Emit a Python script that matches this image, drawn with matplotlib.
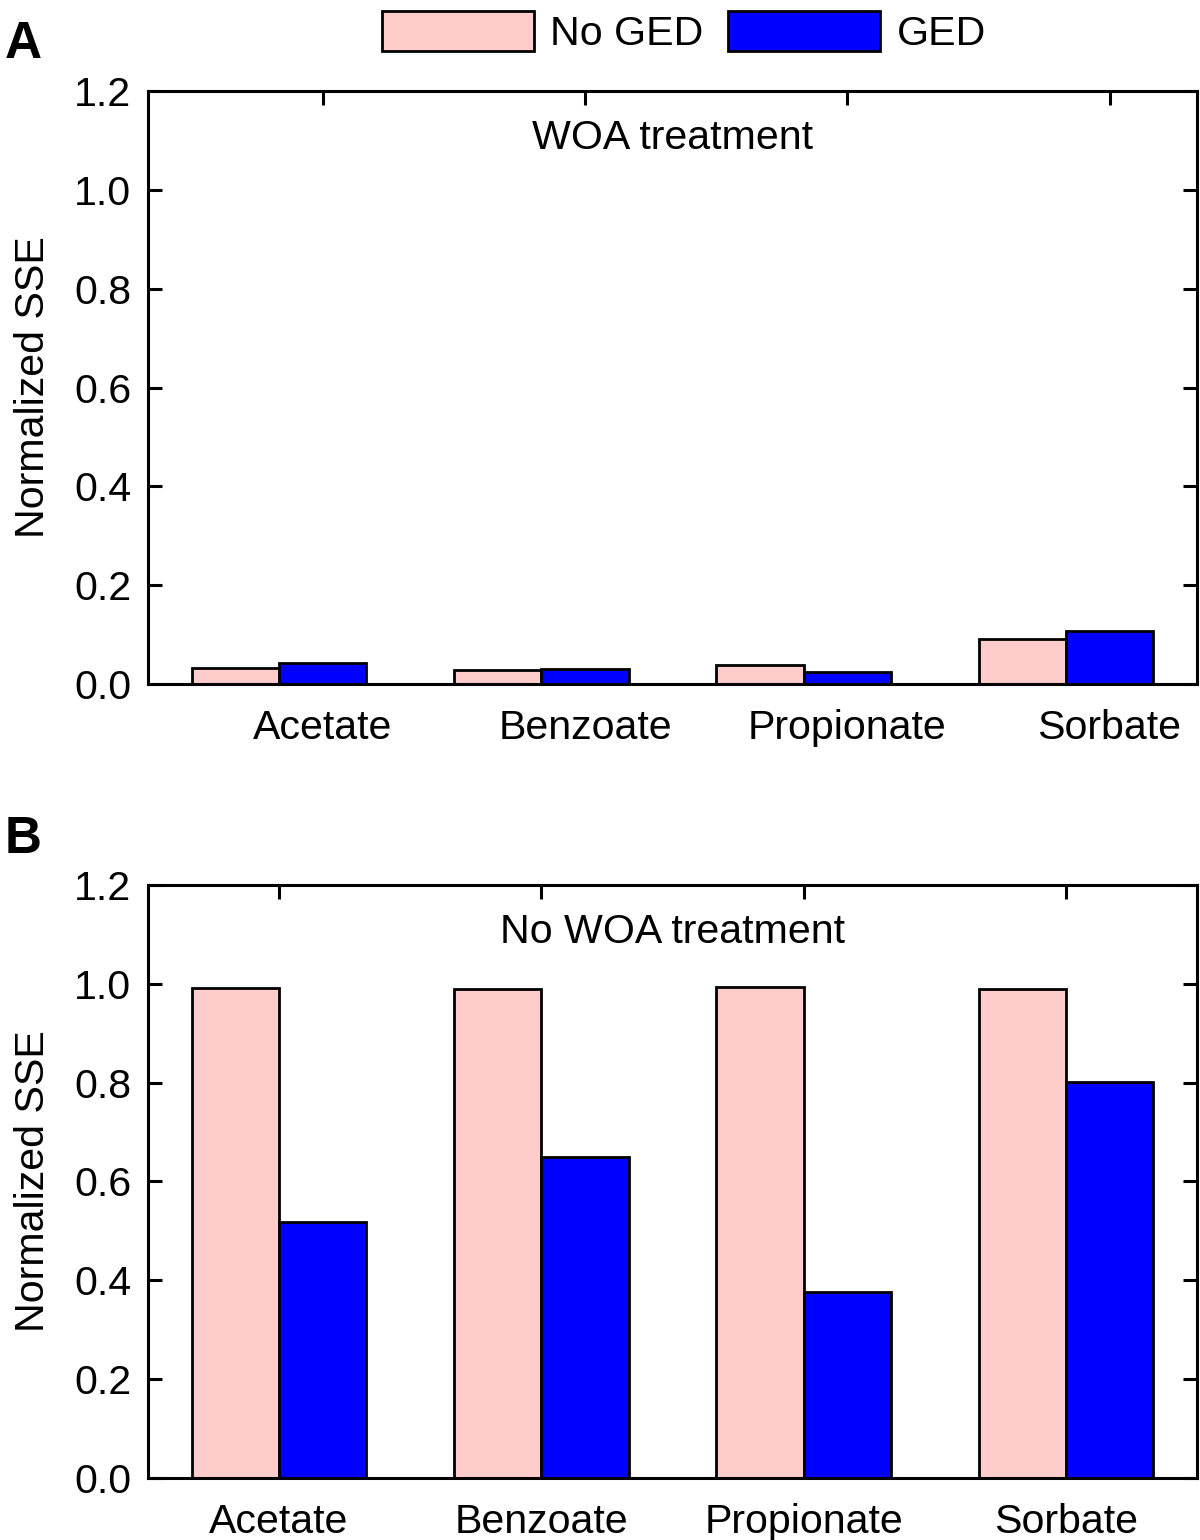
import numpy as np
import matplotlib.pyplot as plt
from matplotlib.patches import Patch

plt.rcParams['font.family'] = ['Liberation Sans', 'DejaVu Sans']

categories = ['Acetate', 'Benzoate', 'Propionate', 'Sorbate']
series_names = ['No GED', 'GED']
woa_no_ged = [0.033, 0.028, 0.038, 0.091]
woa_ged = [0.042, 0.030, 0.025, 0.107]
nowoa_no_ged = [0.991, 0.990, 0.993, 0.990]
nowoa_ged = [0.518, 0.650, 0.376, 0.801]

pink = '#ffcccc'
blue = '#0000ff'
fs = 29.6


def panel(ax, v1, v2, title, tick_shift):
    x = np.arange(1, len(categories) + 1)
    w = 0.333
    ax.bar(x - w / 2, v1, w, color=pink, edgecolor='black', linewidth=2)
    ax.bar(x + w / 2, v2, w, color=blue, edgecolor='black', linewidth=2)
    ax.set_xlim(0.5, 4.5)
    ax.set_ylim(0, 1.2)
    ax.set_yticks(np.arange(0, 1.21, 0.2))
    ax.set_yticklabels(['%.1f' % t for t in np.arange(0, 1.21, 0.2)])
    ax.set_xticks(x + tick_shift)
    ax.set_xticklabels(categories)
    ax.tick_params(direction='in', length=10, width=2.2, top=True, right=True,
                   labelsize=fs, pad=12)
    ax.tick_params(axis='x', bottom=False, pad=18)
    for s in ax.spines.values():
        s.set_linewidth(2.2)
    ax.set_ylabel('Normalized SSE', fontsize=fs, labelpad=16)
    ax.text(0.5, 0.92, title, transform=ax.transAxes, ha='center', va='center',
            fontsize=fs)


fig = plt.figure(figsize=(12, 15.4), dpi=100)
ax1 = fig.add_axes([0.1233, 0.5558, 0.8742, 0.3851])
ax2 = fig.add_axes([0.1233, 0.0403, 0.8742, 0.3850])

panel(ax1, woa_no_ged, woa_ged, 'WOA treatment', 0.1665)
panel(ax2, nowoa_no_ged, nowoa_ged, 'No WOA treatment', 0.0)

fig.text(0.004, 0.971, 'A', fontsize=37, fontweight='bold', va='center')
fig.text(0.004, 0.455, 'B', fontsize=37, fontweight='bold', va='center')

handles = [Patch(facecolor=pink, edgecolor='black', linewidth=2),
           Patch(facecolor=blue, edgecolor='black', linewidth=2)]
fig.legend(handles, series_names, loc='center', bbox_to_anchor=(0.57, 0.979),
           ncol=2, frameon=False, fontsize=fs, handlelength=3.7,
           handleheight=1.1, handletextpad=0.4, columnspacing=0.6,
           borderpad=0.1)

fig.savefig('out.png', dpi=100)
